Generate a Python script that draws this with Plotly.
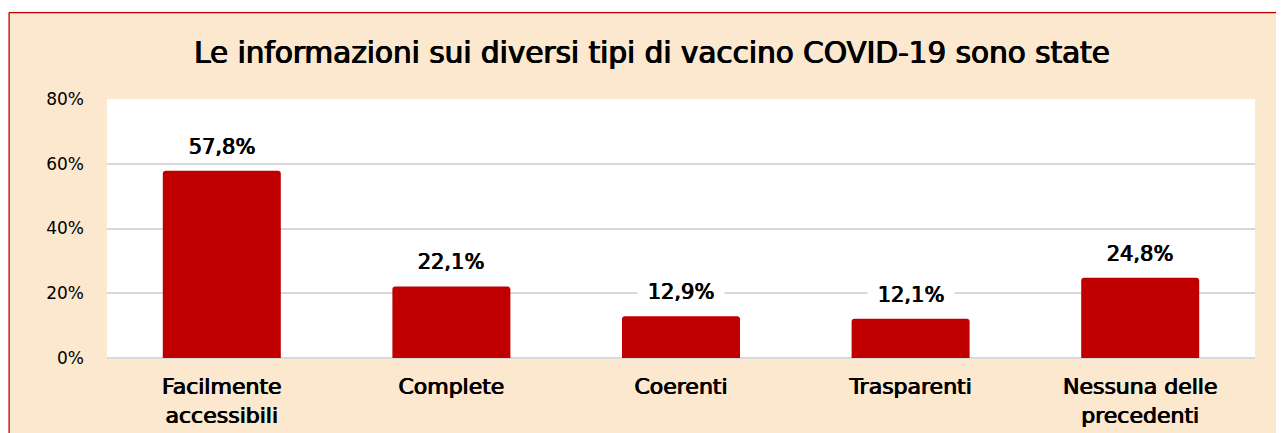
import plotly.graph_objects as go

categories = ["Facilmente<br>accessibili", "Complete", "Coerenti", "Trasparenti", "Nessuna delle<br>precedenti"]
values = [57.8, 22.1, 12.9, 12.1, 24.8]
labels = ["57,8%", "22,1%", "12,9%", "12,1%", "24,8%"]
y_ticks = [0, 20, 40, 60, 80]
y_tick_labels = ["0%", "20%", "40%", "60%", "80%"]
title_text = "Le informazioni sui diversi tipi di vaccino COVID-19 sono state"

BAR = "#C00000"
BEIGE = "#FBE8CF"
FONT = "DejaVu Sans"
# slightly heavier stroke than the regular face (semi-bold look)
SEMI = "0.5px 0 0 #000, -0.5px 0 0 #000"
SEMI_T = "0.6px 0 0 #000, -0.6px 0 0 #000"

# the page body has an 8px margin, so the figure is placed at (8, 8)
OFF = 8
W, H = 1284 - OFF, 433 - OFF
ML, MR, MT, MB = 107 - OFF, 29, 99 - OFF, 75
PW, PH = W - ML - MR, H - MT - MB


def xp(px):
    return (px - OFF - ML) / PW


def yp(py):
    return (H - MB - (py - OFF)) / PH


fig = go.Figure()
fig.add_trace(go.Bar(
    x=categories, y=values,
    marker=dict(color=BAR, cornerradius=3, line=dict(width=0)),
    hoverinfo="skip",
))

for c, v, t in zip(categories, values, labels):
    fig.add_annotation(
        x=c, y=v, text=t, showarrow=False, xref="x", yref="y",
        yanchor="middle", yshift=24, width=84,
        font=dict(family=FONT, size=21, color="#000000", shadow=SEMI),
        bgcolor="white", borderpad=1,
    )

shapes = [
    dict(type="line", xref="paper", yref="paper", x0=xp(9), x1=1.2, y0=yp(12.5), y1=yp(12.5),
         line=dict(color="#C00000", width=1.5), layer="above"),
    dict(type="line", xref="paper", yref="paper", x0=xp(9), x1=xp(9), y0=-0.5, y1=yp(12.5),
         line=dict(color="#C00000", width=1.5), layer="above"),
    dict(type="rect", xref="paper", yref="paper", x0=-0.2, x1=1.2, y0=yp(11.8), y1=1.6,
         fillcolor="white", line=dict(width=0), layer="above"),
    dict(type="rect", xref="paper", yref="paper", x0=-0.2, x1=xp(8.3), y0=-0.5, y1=1.6,
         fillcolor="white", line=dict(width=0), layer="above"),
]

fig.update_layout(
    width=W, height=H,
    margin=dict(l=ML, r=MR, t=MT, b=MB, pad=0, autoexpand=False),
    paper_bgcolor=BEIGE, plot_bgcolor="white",
    showlegend=False,
    bargap=0.486,
    title=dict(text=title_text, x=(652 - OFF) / W, xanchor="center", xref="container",
               y=1 - (53 - OFF) / H, yanchor="middle", yref="container",
               font=dict(family=FONT, size=29.5, color="#000000", shadow=SEMI_T)),
    xaxis=dict(showgrid=False, showline=False, zeroline=False, ticks="",
               tickfont=dict(family=FONT, size=22, color="#000000", shadow=SEMI),
               ticklabelstandoff=13, automargin=False, fixedrange=True),
    yaxis=dict(range=[0, 80], tickvals=y_ticks, ticktext=y_tick_labels,
               showgrid=True, gridcolor="#D9D9D9", gridwidth=1.5,
               zeroline=True, zerolinecolor="#D9D9D9", zerolinewidth=1.5,
               showline=False, ticks="",
               tickfont=dict(family=FONT, size=17, color="#000000"),
               ticklabelstandoff=22, automargin=False, fixedrange=True),
    shapes=shapes,
)

fig.write_html("out.html", config={"displayModeBar": False})
